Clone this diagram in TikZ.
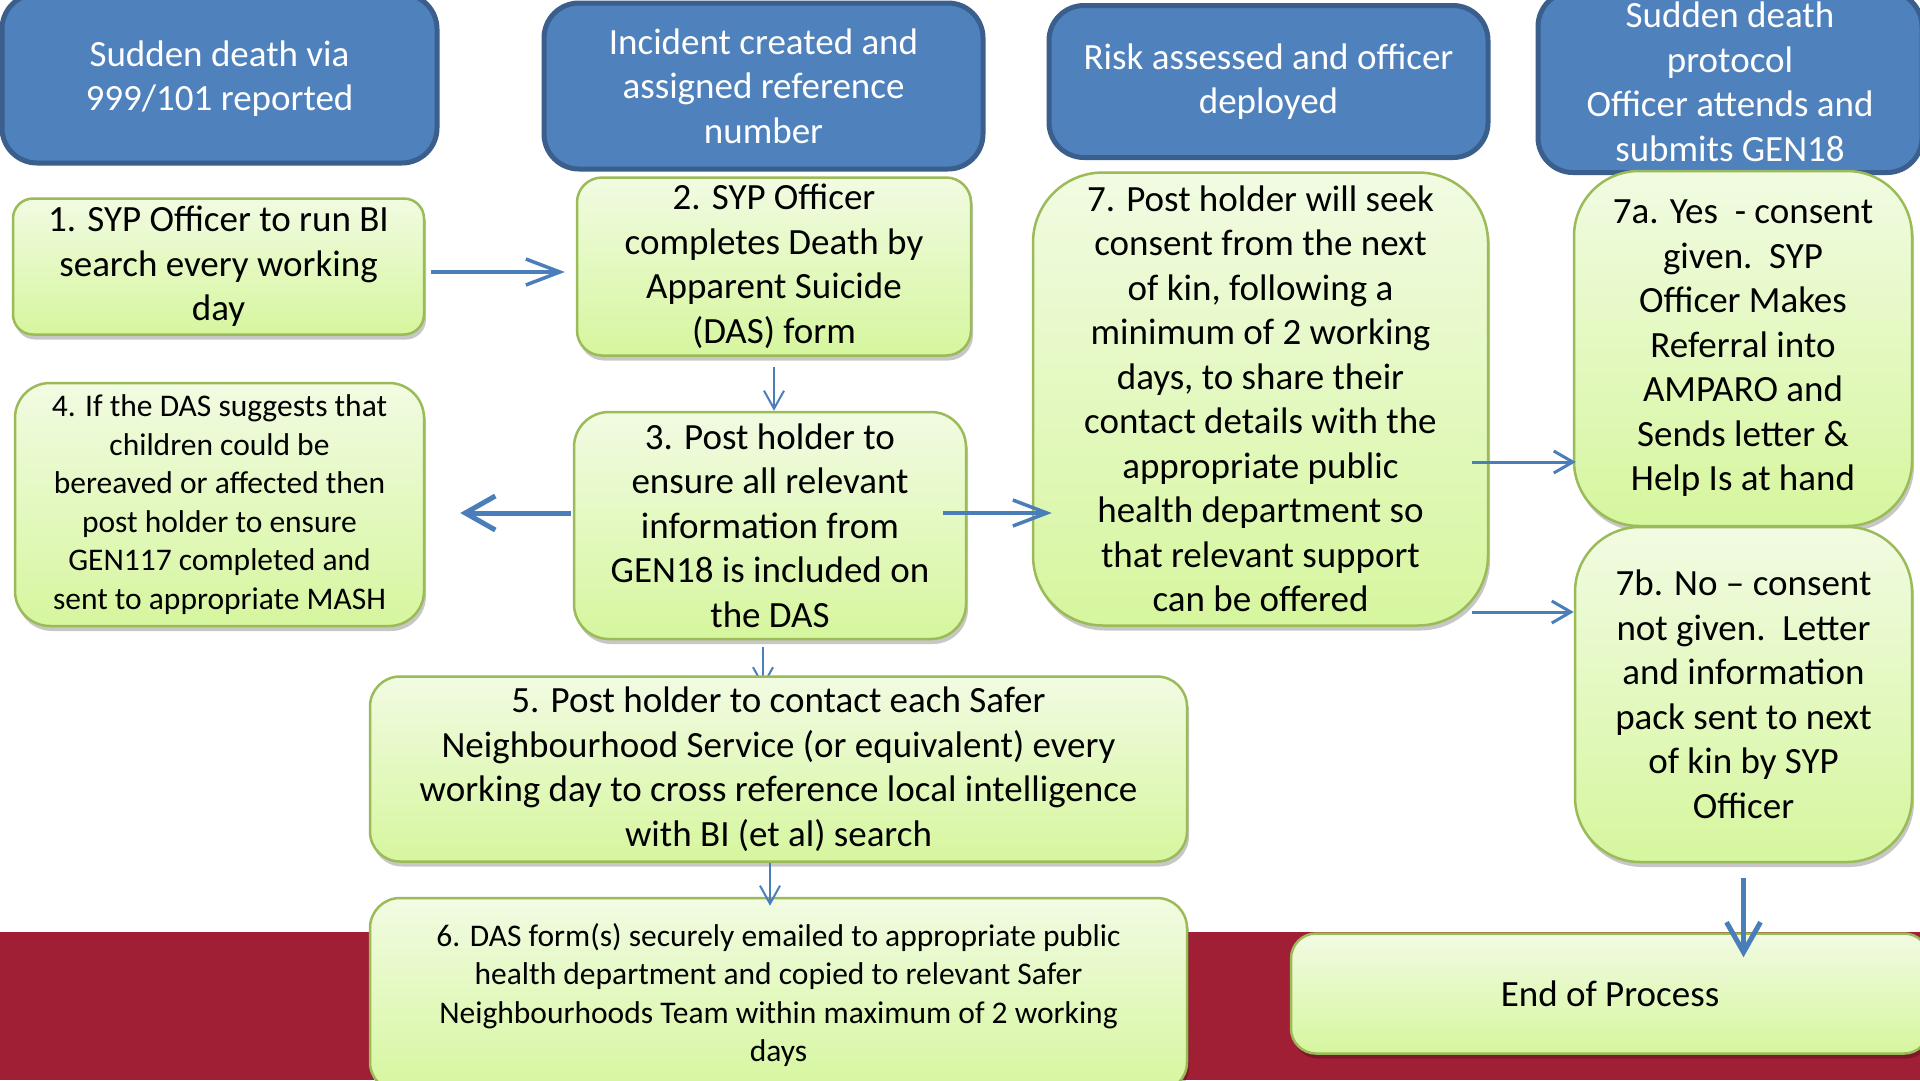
\documentclass[tikz,border=0pt]{standalone}
\usepackage{fontspec}
\setmainfont{Carlito}
\usetikzlibrary{arrows.meta,shadows,calc}
\definecolor{boxblue}{HTML}{4F81BD}
\definecolor{boxblueborder}{HTML}{3A5F8C}
\definecolor{greentop}{RGB}{241,251,226}
\definecolor{greenbot}{RGB}{214,246,158}
\definecolor{greenborder}{HTML}{9BBB59}
\definecolor{arrowblue}{HTML}{4A7EBB}
\definecolor{bandred}{RGB}{160,31,53}
\pgfdeclarelayer{bg}
\pgfdeclarelayer{behind}
\pgfsetlayers{bg,behind,main}
\begin{document}
\begin{tikzpicture}[x=1pt,y=-1pt,
  bluebox/.style={draw=boxblueborder, line width=5pt, fill=boxblue, text=white,
    align=center, font=\fontsize{37}{44.5}\selectfont, inner sep=0pt},
  greenbox/.style={draw=greenborder, line width=2.5pt, top color=greentop,
    bottom color=greenbot, text=black, align=center,
    font=\fontsize{37}{44.5}\selectfont, inner sep=0pt,
    drop shadow={shadow xshift=2pt, shadow yshift=-5pt, opacity=0.22, fill=black}},
  smalltext/.style={font=\fontsize{31.5}{38.5}\selectfont},
  arrA/.style={draw=arrowblue, line width=3.5pt, -{Straight Barb[length=34pt,width=26pt]}},
  arrB/.style={draw=arrowblue, line width=3pt, -{Straight Barb[length=19pt,width=22pt]}},
  arrthin/.style={draw=arrowblue, line width=2pt, -{Straight Barb[length=18pt,width=20pt]}},
  arrthick/.style={draw=arrowblue, line width=5pt, -{Straight Barb[length=30pt,width=34pt]}}]
\useasboundingbox (0,0) rectangle (1920,1080);
\begin{pgfonlayer}{bg}
  \fill[white] (0,0) rectangle (1920,1080);
  \fill[bandred] (0,932) rectangle (1920,1080);
\end{pgfonlayer}

% header boxes
\node[bluebox, minimum width=435pt, minimum height=169pt, rounded corners=35pt] (b1) at (219.5,78.5) {Sudden death via\\999/101 reported};
\node[bluebox, minimum width=439pt, minimum height=166pt, rounded corners=35pt] (b2) at (763.5,86) {Incident created and\\assigned reference\\number};
\node[bluebox, minimum width=439pt, minimum height=152pt, rounded corners=35pt] (b3) at (1268.5,81.5) {Risk assessed and officer\\deployed};
\node[bluebox, minimum width=384pt, minimum height=181pt, rounded corners=35pt] (b4) at (1730,82) {Sudden death\\protocol\\Officer attends and\\submits GEN18};

% process boxes
\node[greenbox, minimum width=411pt, minimum height=136pt, rounded corners=20pt] (g1) at (218.5,266.5) {1. SYP Officer to run BI\\search every working\\day};
\node[greenbox, minimum width=394pt, minimum height=178pt, rounded corners=25pt] (g2) at (774,266.5) {2. SYP Officer\\completes Death by\\Apparent Suicide\\(DAS) form};
\node[greenbox, minimum width=392pt, minimum height=227pt, rounded corners=35pt] (g3) at (770,525.5) {3. Post holder to\\ensure all relevant\\information from\\GEN18 is included on\\the DAS};
\node[greenbox, smalltext, minimum width=409pt, minimum height=243pt, rounded corners=35pt] (g4) at (219.5,504.5) {4. If the DAS suggests that\\children could be\\bereaved or affected then\\post holder to ensure\\GEN117 completed and\\sent to appropriate MASH};
\node[greenbox, minimum width=817pt, minimum height=185pt, rounded corners=30pt] (g5) at (778.5,769) {5. Post holder to contact each Safer\\Neighbourhood Service (or equivalent) every\\working day to cross reference local intelligence\\with BI (et al) search};
\node[greenbox, smalltext, minimum width=817pt, minimum height=194pt, rounded corners=30pt] (g6) at (778.5,995) {6. DAS form(s) securely emailed to appropriate public\\health department and copied to relevant Safer\\Neighbourhoods Team within maximum of 2 working\\days};
\node[greenbox, minimum width=455pt, minimum height=453pt, rounded corners=70pt] (g7) at (1260.5,399) {7. Post holder will seek\\consent from the next\\of kin, following a\\minimum of 2 working\\days, to share their\\contact details with the\\appropriate public\\health department so\\that relevant support\\can be offered};
\node[greenbox, minimum width=338pt, minimum height=355pt, rounded corners=65pt] (g7a) at (1743,348.5) {7a. Yes\ \ - consent\\given.\ \ SYP\\Officer Makes\\Referral into\\AMPARO and\\Sends letter \&\\Help Is at hand};
\node[greenbox, minimum width=337pt, minimum height=335pt, rounded corners=65pt] (g7b) at (1743.5,694.5) {7b. No – consent\\not given.\ \ Letter\\and information\\pack sent to next\\of kin by SYP\\Officer};
\node[greenbox, minimum width=638pt, minimum height=120pt, rounded corners=25pt] (end) at (1610,993.5) {End of Process};

% connectors
\draw[arrA, shorten >=11pt] ($(g1.east)+(6,5.5)$) -- ($(g2.west)+(0,5.5)$);
\draw[arrthin, shorten <=10pt] (g2.south) -- (g2.south |- g3.north);
\draw[arrthick, shorten >=35pt] ($(g3.west)+(-2,-12.5)$) -- ($(g4.east)+(0,8.5)$);
\draw[arrA] ($(g3.east)+(-24,-12.5)$) -- ($(g7.west)+(20,114)$);
\begin{pgfonlayer}{behind}
  \draw[arrthin] ($(g3.south)+(-7,7)$) -- ($(g5.north)+(-15.5,12)$);
\end{pgfonlayer}
\draw[arrthin] ($(g5.south)+(-8.5,0)$) -- ($(g6.north)+(-8.5,9)$);
\draw[arrB] ($(g7.east)+(-17,63)$) -- ($(g7a.west)+(3,113.5)$);
\draw[arrB] ($(g7.east)+(-17,213)$) -- ($(g7b.west)+(0,-82.5)$);
\coordinate (e1) at (g7b.south |- end.north);
\draw[arrthick] ($(g7b.south)+(0,15)$) -- ($(e1)+(0,25)$);
\end{tikzpicture}
\end{document}
